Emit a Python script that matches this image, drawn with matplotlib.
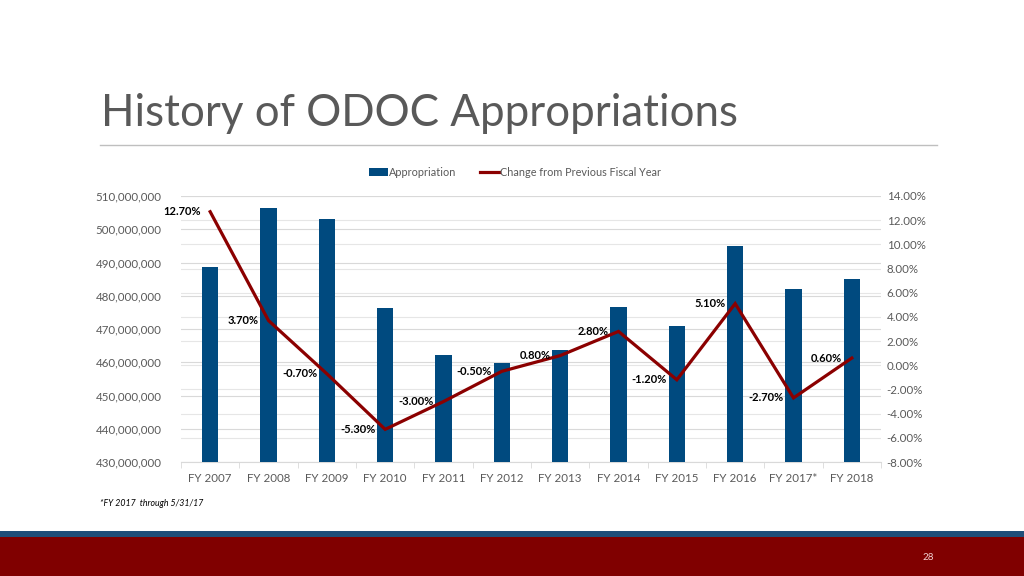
import matplotlib
matplotlib.use("Agg")
import matplotlib.pyplot as plt
from matplotlib.ticker import FuncFormatter, MultipleLocator
import numpy as np

plt.rcParams['font.family'] = ['Lato', 'DejaVu Sans']

categories = ["FY 2007", "FY 2008", "FY 2009", "FY 2010", "FY 2011", "FY 2012",
              "FY 2013", "FY 2014", "FY 2015", "FY 2016", "FY 2017*", "FY 2018"]
appropriation = [488.7e6, 506.5e6, 503.0e6, 476.2e6, 462.2e6, 459.8e6,
                 463.8e6, 476.7e6, 470.9e6, 495.1e6, 481.9e6, 485.1e6]
change_pct = [12.7, 3.7, -0.7, -5.3, -3.0, -0.5, 0.8, 2.8, -1.2, 5.1, -2.7, 0.6]

W, H = 1024, 576
fig = plt.figure(figsize=(W / 100, H / 100), dpi=100)

def px(x0, y0, x1, y1):
    return [x0 / W, 1 - y1 / H, (x1 - x0) / W, (y1 - y0) / H]

# Title & rule
fig.text(101 / W, 1 - 113 / H, "History of ODOC Appropriations", fontsize=31.6,
         color="#595959", fontweight="normal", va="center", ha="left")
fig.add_artist(plt.Line2D([100 / W, 937 / W], [1 - 145 / H, 1 - 145 / H],
                          color="#BFBFBF", lw=1))

# Bottom bands
fig.add_artist(plt.Rectangle((0, 1 - 537 / H), 1, 6 / H, color="#1F4E79", lw=0))
fig.add_artist(plt.Rectangle((0, 0), 1, 1 - 537 / H, color="#800000", lw=0))
fig.text(928 / W, 1 - 558 / H, "28", fontsize=7, color="#F2D0D0", ha="center", va="center")

# Footnote
fig.text(100 / W, 1 - 504 / H, "*FY 2017  through 5/31/17", fontsize=6.3,
         style="italic", color="#000000", ha="left", va="center")

rect = px(181, 196, 881, 462)

# Percentage gridlines (behind bars)
axg = fig.add_axes(rect, zorder=0)
axg.set_ylim(-8, 14)
axg.yaxis.set_major_locator(MultipleLocator(2))
axg.grid(axis="y", color="#E6E6E6", lw=0.8)
axg.set_xticks([])
axg.tick_params(axis="y", length=0, labelleft=False)
for s in axg.spines.values():
    s.set_visible(False)

ax = fig.add_axes(rect, zorder=1)
ax.patch.set_visible(False)
x = np.arange(len(categories))
bar_color = "#004A7F"
ax.bar(x, appropriation, width=0.28, color=bar_color, zorder=3, label="Appropriation")
ax.set_ylim(430e6, 510e6)
ax.set_xlim(-0.5, len(categories) - 0.5)
ax.yaxis.set_major_locator(MultipleLocator(10e6))
ax.yaxis.set_major_formatter(FuncFormatter(lambda v, p: f"{v:,.0f}"))
ax.grid(axis="y", color="#D9D9D9", lw=0.8, zorder=0)
ax.set_axisbelow(True)
ax.set_xticks(x)
ax.set_xticklabels(categories)
for s in ["top", "right", "left"]:
    ax.spines[s].set_visible(False)
ax.spines["bottom"].set_color("#D9D9D9")
ax.tick_params(axis="y", length=0, labelsize=8.3, labelcolor="#595959", pad=14)
ax.tick_params(axis="x", length=0, labelsize=8.3, labelcolor="#595959", pad=8)
ax.set_xticks(np.arange(-0.5, len(categories)), minor=True)
ax.tick_params(axis="x", which="minor", length=4, color="#D9D9D9")

ax2 = ax.twinx()
ax2.set_zorder(2)
ax2.patch.set_visible(False)
line_color = "#8B0000"
ax2.plot(x, change_pct, color=line_color, lw=2.3, zorder=4,
         solid_joinstyle="miter", label="Change from Previous Fiscal Year")
ax2.set_ylim(-8, 14)
ax2.yaxis.set_major_locator(MultipleLocator(2))
ax2.yaxis.set_major_formatter(FuncFormatter(lambda v, p: f"{v:.2f}%"))
for s in ["top", "right", "left", "bottom"]:
    ax2.spines[s].set_visible(False)
ax2.tick_params(axis="y", length=0, labelsize=8.3, labelcolor="#595959", pad=4)

for xi, v in zip(x, change_pct):
    ax2.annotate(f"{v:.2f}%", (xi, v), xytext=(-7, 0), textcoords="offset points",
                 ha="right", va="center", fontsize=8, fontweight="bold", color="#000000",
                 zorder=5)

# Legend
h1, l1 = ax.get_legend_handles_labels()
h2, l2 = ax2.get_legend_handles_labels()
fig.legend(h1 + h2, l1 + l2, loc="center", bbox_to_anchor=(515 / W, 1 - 172 / H),
           ncol=2, frameon=False, fontsize=7.8, labelcolor="#595959",
           handlelength=1.7, handletextpad=0.1, columnspacing=2.2)

fig.savefig("out.png", dpi=100)
